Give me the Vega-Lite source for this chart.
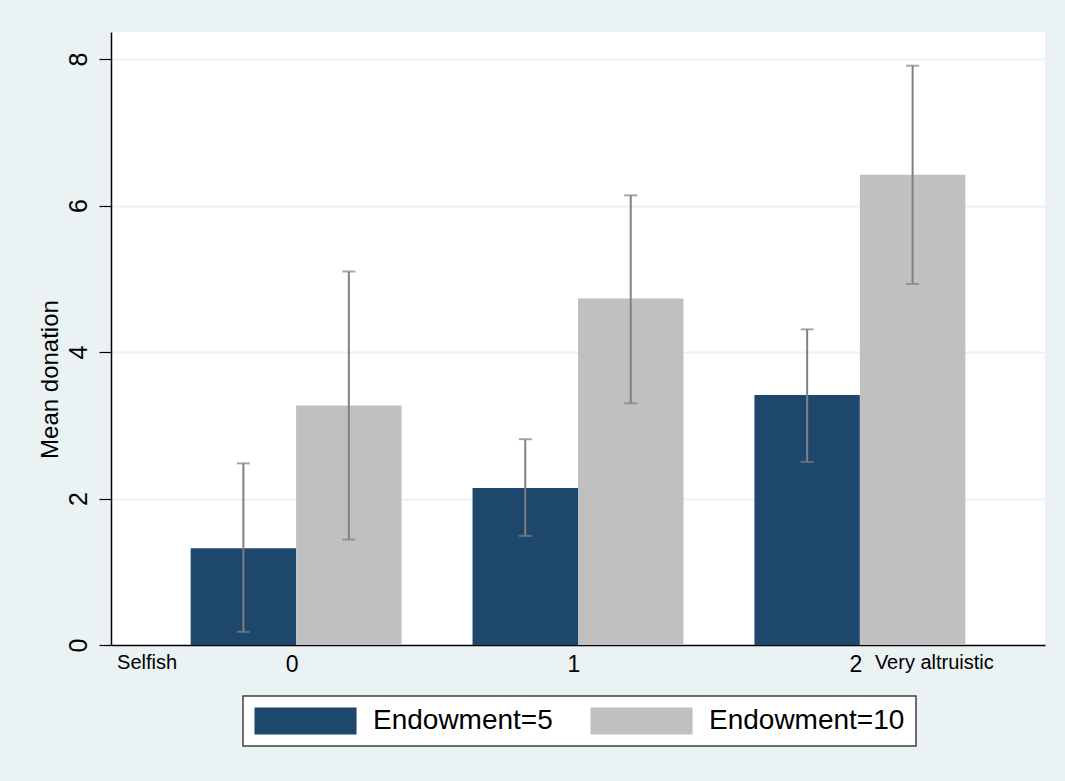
{
  "$schema": "https://vega.github.io/schema/vega-lite/v6.json",
  "width": 934,
  "height": 613,
  "autosize": {"type": "none"},
  "padding": {"left": 111, "top": 32, "right": 20, "bottom": 136},
  "background": "#EAF2F3",
  "config": {
    "font": "Liberation Sans",
    "view": {"fill": "white", "stroke": null},
    "legend": {"strokeWidth": 1.5}
  },
  "data": {
    "values": [
      {"group": "0", "endowment": "Endowment=5", "mean": 1.32, "lo": 0.18, "hi": 2.48},
      {"group": "0", "endowment": "Endowment=10", "mean": 3.27, "lo": 1.44, "hi": 5.10},
      {"group": "1", "endowment": "Endowment=5", "mean": 2.145, "lo": 1.49, "hi": 2.81},
      {"group": "1", "endowment": "Endowment=10", "mean": 4.73, "lo": 3.30, "hi": 6.14},
      {"group": "2", "endowment": "Endowment=5", "mean": 3.415, "lo": 2.50, "hi": 4.31},
      {"group": "2", "endowment": "Endowment=10", "mean": 6.42, "lo": 4.93, "hi": 7.91}
    ]
  },
  "layer": [
    {
      "mark": {"type": "bar", "strokeWidth": 0},
      "encoding": {
        "x": {
          "field": "group", "type": "nominal", "sort": ["0", "1", "2"],
          "scale": {"paddingInner": 0.2518, "paddingOuter": 0.2826},
          "axis": {
            "title": null, "labelAngle": 0, "labelFontSize": 23, "labelColor": "black",
            "ticks": false, "tickSize": 0, "labelPadding": 8, "labelOffset": -4,
            "domainColor": "black", "domainWidth": 1.5, "grid": false, "orient": "bottom"
          }
        },
        "xOffset": {
          "field": "endowment", "type": "nominal",
          "sort": ["Endowment=5", "Endowment=10"],
          "scale": {"paddingInner": 0, "paddingOuter": 0}
        },
        "y": {
          "field": "mean", "type": "quantitative",
          "scale": {"domain": [0, 8.37], "nice": false, "zero": true},
          "axis": {
            "values": [0, 2, 4, 6, 8], "format": "d",
            "title": "Mean donation", "titleFontSize": 24, "titleFontWeight": "normal",
            "titleColor": "black", "titleAngle": 270, "titleAlign": "center",
            "titleBaseline": "bottom", "titleX": -49, "titleY": 347,
            "labelAngle": 270, "labelAlign": "center", "labelBaseline": "bottom",
            "labelFontSize": 25, "labelColor": "black", "labelPadding": 8,
            "tickSize": 12, "tickColor": "black", "tickWidth": 1.2,
            "domainColor": "black", "domainWidth": 1.5,
            "grid": true, "gridColor": "#EAF2F3", "gridWidth": 2
          }
        },
        "color": {
          "field": "endowment", "type": "nominal",
          "sort": ["Endowment=5", "Endowment=10"],
          "scale": {"domain": ["Endowment=5", "Endowment=10"], "range": ["#1E476E", "#C0C0C0"]},
          "legend": {
            "title": null, "orient": "none", "legendX": 132, "legendY": 664,
            "direction": "horizontal", "columns": 2, "padding": 11,
            "fillColor": "white", "strokeColor": "#404040",
            "symbolType": "M-1,-1H6.56V1H-1Z", "symbolSize": 729,
            "symbolStrokeWidth": 0, "symbolOpacity": 1,
            "labelFontSize": 28, "labelColor": "black", "labelOffset": 91,
            "columnPadding": 37, "labelLimit": 400
          }
        }
      }
    },
    {
      "mark": {"type": "rule", "color": "#808080", "strokeWidth": 2},
      "encoding": {
        "x": {
          "field": "group", "type": "nominal", "sort": ["0", "1", "2"],
          "axis": {
            "title": null, "orient": "bottom", "domain": false, "ticks": false, "tickSize": 0,
            "grid": false, "labelAngle": 0, "labelFontSize": 20, "labelColor": "black",
            "labelPadding": 7, "labelAlign": "left",
            "labelExpr": "datum.value == '0' ? 'Selfish' : (datum.value == '2' ? 'Very altruistic' : '')",
            "labelOffset": {"condition": {"test": "datum.value == '0'", "value": -179}, "value": 15}
          }
        },
        "xOffset": {"field": "endowment", "type": "nominal", "sort": ["Endowment=5", "Endowment=10"]},
        "y": {"field": "lo", "type": "quantitative"},
        "y2": {"field": "hi"}
      }
    },
    {
      "mark": {"type": "tick", "color": "#808080", "thickness": 2, "size": 13, "orient": "horizontal"},
      "encoding": {
        "x": {"field": "group", "type": "nominal", "sort": ["0", "1", "2"], "axis": null},
        "xOffset": {"field": "endowment", "type": "nominal", "sort": ["Endowment=5", "Endowment=10"]},
        "y": {"field": "lo", "type": "quantitative"}
      }
    },
    {
      "mark": {"type": "tick", "color": "#808080", "thickness": 2, "size": 13, "orient": "horizontal"},
      "encoding": {
        "x": {"field": "group", "type": "nominal", "sort": ["0", "1", "2"], "axis": null},
        "xOffset": {"field": "endowment", "type": "nominal", "sort": ["Endowment=5", "Endowment=10"]},
        "y": {"field": "hi", "type": "quantitative"}
      }
    }
  ],
  "resolve": {"axis": {"x": "independent"}}
}
